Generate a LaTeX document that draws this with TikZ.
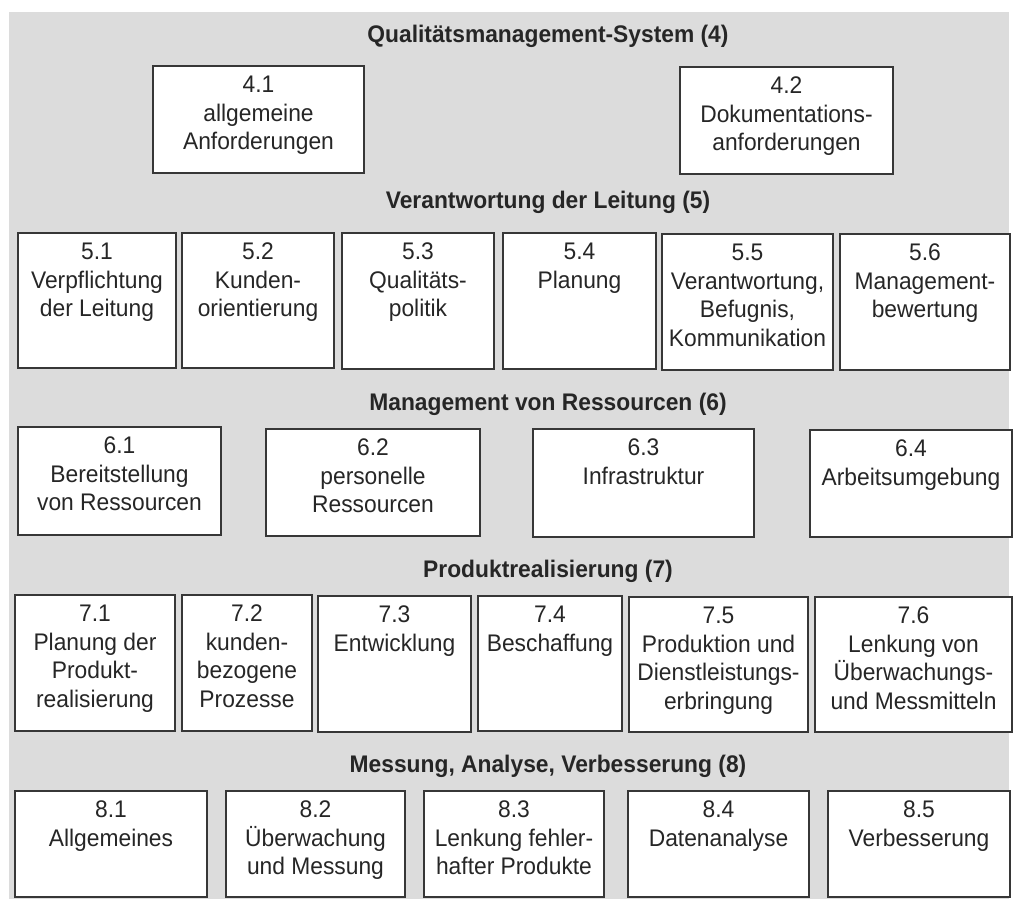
\documentclass[tikz,border=0pt]{standalone}
\usepackage{fontspec}
\setmainfont{Liberation Sans}[FakeStretch=0.95]
\definecolor{paper}{RGB}{220,220,220}
\definecolor{ink}{RGB}{38,38,38}
\definecolor{frame}{RGB}{55,55,55}
\tikzset{
  qbox/.style={draw=frame, fill=white, line width=1.4pt, inner sep=0pt, outer sep=0pt, anchor=north west},
  qtext/.style={text=ink, align=center, inner sep=0pt, anchor=north, yshift=-10pt,
    font=\fontsize{24}{28.5}\selectfont},
  qhead/.style={text=ink, inner sep=0pt, anchor=base,
    font=\bfseries\fontsize{24}{28}\selectfont},
}
% \qbox{name}{x1}{y1}{x2}{y2}{text}: a framed box with its text at the top
\newcommand{\qbox}[6]{%
  \node[qbox, minimum width={(#4-#2)*1pt}, minimum height={(#5-#3)*1pt}] (#1) at (#2,#3) {};
  \node[qtext] (#1t) at (#1.north) {#6};
}
\begin{document}
\begin{tikzpicture}[x=1pt, y=-1pt]
\useasboundingbox (0,0) rectangle (1016,899);
\fill[paper] (9,12) rectangle (1009,899);

% Chapter 4
\node[qhead] (h4) at (548,42) {Qualitätsmanagement-System (4)};
\qbox{b41}{153}{66}{364}{173}{4.1\\allgemeine\\Anforderungen}
\qbox{b42}{680}{67}{893}{174}{4.2\\Dokumentations-\\anforderungen}

% Chapter 5
\node[qhead] (h5) at (548,208) {Verantwortung der Leitung (5)};
\qbox{b51}{18}{233}{176}{368}{5.1\\Verpflichtung\\der Leitung}
\qbox{b52}{182}{233}{334}{368}{5.2\\Kunden-\\orientierung}
\qbox{b53}{342}{233}{494}{369}{5.3\\Qualitäts-\\politik}
\qbox{b54}{503}{233}{656}{369}{5.4\\Planung}
\qbox{b55}{662}{234}{833}{370}{5.5\\Verantwortung,\\Befugnis,\\Kommunikation}
\qbox{b56}{840}{234}{1010}{370}{5.6\\Management-\\bewertung}

% Chapter 6
\node[qhead] (h6) at (548,410) {Management von Ressourcen (6)};
\qbox{b61}{18}{427}{221}{535}{6.1\\Bereitstellung\\von Ressourcen}
\qbox{b62}{266}{429}{480}{536}{6.2\\personelle\\Ressourcen}
\qbox{b63}{533}{429}{754}{537}{6.3\\Infrastruktur}
\qbox{b64}{810}{430}{1012}{537}{6.4\\Arbeitsumgebung}

% Chapter 7
\node[qhead] (h7) at (548,577) {Produktrealisierung (7)};
\qbox{b71}{15}{595}{175}{731}{7.1\\Planung der\\Produkt-\\realisierung}
\qbox{b72}{182}{595}{312}{731}{7.2\\kunden-\\bezogene\\Prozesse}
\qbox{b73}{318}{596}{471}{732}{7.3\\Entwicklung}
\qbox{b74}{478}{596}{622}{731}{7.4\\Beschaffung}
\qbox{b75}{629}{597}{808}{732}{7.5\\Produktion und\\Dienstleistungs-\\erbringung}
\qbox{b76}{815}{597}{1012}{732}{7.6\\Lenkung von\\Überwachungs-\\und Messmitteln}

% Chapter 8
\node[qhead] (h8) at (548,772) {Messung, Analyse, Verbesserung (8)};
\qbox{b81}{15}{791}{207}{897}{8.1\\Allgemeines}
\qbox{b82}{226}{791}{405}{897}{8.2\\Überwachung\\und Messung}
\qbox{b83}{424}{791}{604}{897}{8.3\\Lenkung fehler-\\hafter Produkte}
\qbox{b84}{628}{791}{809}{897}{8.4\\Datenanalyse}
\qbox{b85}{828}{791}{1010}{897}{8.5\\Verbesserung}
\end{tikzpicture}
\end{document}
